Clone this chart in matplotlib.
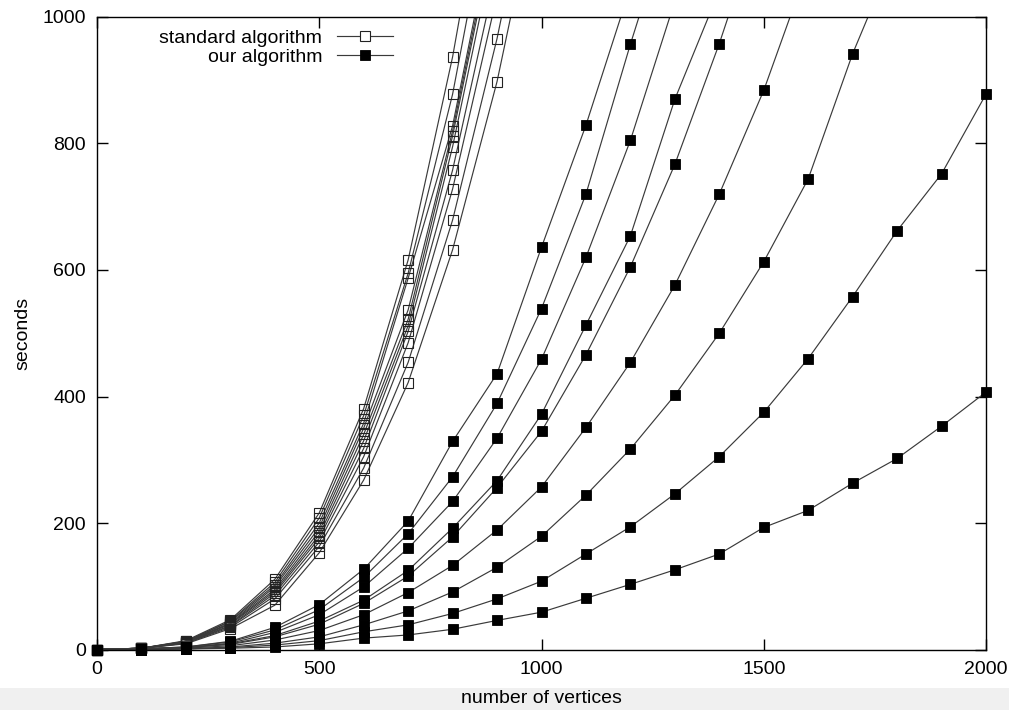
import matplotlib
matplotlib.use("Agg")
import matplotlib.pyplot as plt
from matplotlib.lines import Line2D
from matplotlib.patches import Rectangle

# number of vertices (x positions of the measurements)
X_VALUES = [0, 100, 200, 300, 400, 500, 600, 700, 800, 900, 1000,
            1100, 1200, 1300, 1400, 1500, 1600, 1700, 1800, 1900, 2000]

# standard algorithm (seconds), one list per run, starting at 0 vertices
std_1 = [0, 2, 14, 47, 111, 216, 381, 616, 937, 1331]
std_2 = [0, 2, 13, 45, 106, 208, 370, 595, 878, 1247]
std_3 = [0, 2, 13, 44, 102, 200, 358, 587, 828, 1176]
std_4 = [0, 2, 12, 42, 99, 193, 350, 537, 820, 1164]
std_5 = [0, 2, 12, 41, 95, 187, 340, 522, 812, 1153]
std_6 = [0, 2, 11, 40, 92, 181, 330, 512, 795, 1129]
std_7 = [0, 2, 11, 38, 89, 176, 318, 503, 758, 1076]
std_8 = [0, 2, 10, 37, 85, 170, 305, 485, 728, 1034]
std_9 = [0, 2, 10, 35, 80, 163, 287, 454, 679, 966, 1306]
std_10 = [0, 2, 9, 33, 70, 153, 268, 422, 632, 898, 1231]

# our algorithm (seconds)
our_1 = [0, 1, 4, 13, 35, 71, 127, 203, 329, 436, 636, 829, 1047]
our_2 = [0, 1, 4, 12, 31, 63, 114, 183, 273, 389, 539, 720, 957, 1180]
our_3 = [0, 1, 3, 10, 27, 55, 99, 160, 234, 334, 459, 620, 805, 1025]
our_4 = [0, 1, 3, 9, 22, 45, 78, 125, 192, 267, 372, 513, 654, 870, 1042]
our_5 = [0, 1, 3, 8, 20, 40, 73, 116, 178, 256, 345, 466, 605, 767, 958, 1169]
our_6 = [0, 1, 2, 6, 15, 30, 55, 90, 133, 189, 257, 351, 454, 576, 720, 884, 1080]
our_7 = [0, 0, 1, 4, 10, 20, 39, 61, 91, 130, 179, 244, 317, 402, 500, 613, 744, 942, 1110]
our_8 = [0, 0, 1, 3, 7, 14, 28, 39, 57, 80, 108, 151, 194, 246, 305, 375, 460, 558, 662, 752, 878]
our_9 = [0, 0, 1, 2, 4, 9, 18, 23, 32, 46, 59, 81, 103, 126, 151, 193, 220, 263, 302, 353, 407]

standard_runs = [std_1, std_2, std_3, std_4, std_5, std_6, std_7, std_8, std_9, std_10]
our_runs = [our_1, our_2, our_3, our_4, our_5, our_6, our_7, our_8, our_9]

X_TICKS = [0, 500, 1000, 1500, 2000]
Y_TICKS = [0, 200, 400, 600, 800, 1000]
LABEL_STD = "standard algorithm"
LABEL_OUR = "our algorithm"
X_LABEL = "number of vertices"
Y_LABEL = "seconds"

plt.rcParams['font.family'] = ['Liberation Sans', 'DejaVu Sans']
FS = 14

fig = plt.figure(figsize=(10.09, 7.10), dpi=100)
fig.patch.set_facecolor('white')
ax = fig.add_axes([97 / 1009, 1 - 649.5 / 710, (986 - 97) / 1009, (649.5 - 17) / 710])

LINE_COLOR = '#3a3a3a'
LW = 0.85
MS = 6.5

def draw(runs, filled):
    for ys in runs:
        xs = X_VALUES[:len(ys)]
        ax.plot(xs, ys, color=LINE_COLOR, lw=LW, zorder=2)
        px = [x for x, y in zip(xs, ys) if y <= 1000]
        py = [y for y in ys if y <= 1000]
        if filled:
            ax.plot(px, py, ls='none', marker='s', ms=MS, mfc='black', mec='black',
                    mew=0.6, clip_on=False, zorder=3)
        else:
            ax.plot(px, py, ls='none', marker='s', ms=MS, mfc='none', mec='#222222',
                    mew=0.8, clip_on=False, zorder=3)

draw(standard_runs, False)
draw(our_runs, True)

ax.set_xlim(0, 2000)
ax.set_ylim(0, 1000)
ax.set_xticks(X_TICKS)
ax.set_yticks(Y_TICKS)
ax.tick_params(direction='in', length=8, width=1, top=True, right=True,
               labelsize=FS, pad=8, colors='black')
for s in ax.spines.values():
    s.set_linewidth(1.0)
    s.set_color('black')

ax.set_xlabel(X_LABEL, fontsize=FS, labelpad=9)
ax.set_ylabel(Y_LABEL, fontsize=FS, labelpad=8)

h_std = Line2D([], [], color=LINE_COLOR, lw=LW, marker='s', ms=MS, mfc='white', mec='#222222', mew=0.8)
h_our = Line2D([], [], color=LINE_COLOR, lw=LW, marker='s', ms=MS, mfc='black', mec='black', mew=0.6)
leg = ax.legend([h_std, h_our], [LABEL_STD, LABEL_OUR], loc='upper right',
                bbox_to_anchor=(393 / 1009, 1 - 29 / 710), bbox_transform=fig.transFigure,
                markerfirst=False, frameon=False, fontsize=FS, handlelength=2.9,
                handletextpad=0.75, labelspacing=0.08, borderpad=0, borderaxespad=0,
                numpoints=1)

# light grey strip along the bottom edge of the picture
fig.add_artist(Rectangle((0, 0), 1, 22 / 710, transform=fig.transFigure,
                         facecolor='#f0f0f0', edgecolor='none', zorder=-5))

fig.savefig('out.png', dpi=100)
